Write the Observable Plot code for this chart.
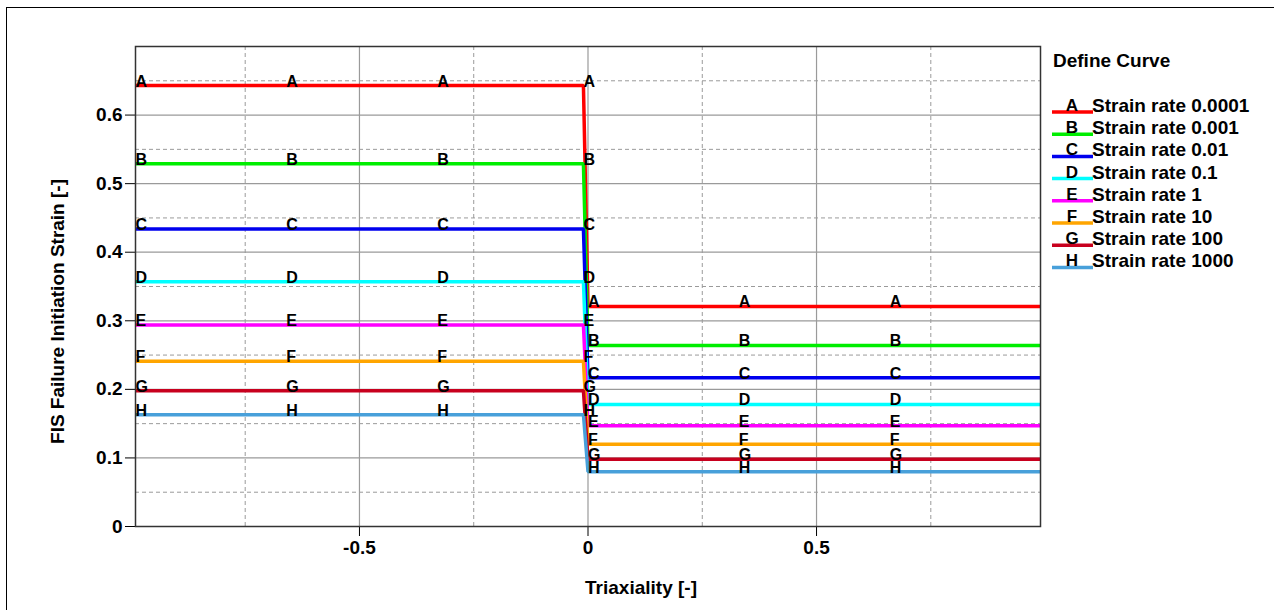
<!DOCTYPE html>
<html>
<head>
<meta charset="utf-8">
<script src="https://cdn.jsdelivr.net/npm/d3@7"></script>
<script src="https://cdn.jsdelivr.net/npm/@observablehq/plot@0.6"></script>
<style>
  body { margin: 0; background: #fff; }
  #wrap { position: relative; width: 1274px; height: 610px; overflow: hidden; font-family: "Liberation Sans", Arial, sans-serif; }
  #border { position: absolute; left: 6px; top: 7px; width: 1400px; height: 800px; border-top: 1.5px solid #000; border-left: 1.5px solid #000; }
  #wrap svg { position: absolute; left: 0; top: 0; }
</style>
</head>
<body>
<div id="wrap"><div id="border"></div></div>
<script>
// ---- data ----
const curveLetters = ["A", "B", "C", "D", "E", "F", "G", "H"];
const curveNames = ["Strain rate 0.0001", "Strain rate 0.001", "Strain rate 0.01", "Strain rate 0.1",
                    "Strain rate 1", "Strain rate 10", "Strain rate 100", "Strain rate 1000"];
const curveColors = ["#ff0000", "#00ee00", "#0000ee", "#00ffff", "#ff00ff", "#ffa500", "#c8001e", "#48a0da"];
const triaxiality = [-0.99, -0.66, -0.33, -0.01, 0, 0.33, 0.66, 0.99];
const leftLevel = [0.643, 0.529, 0.434, 0.357, 0.294, 0.241, 0.198, 0.163];   // triaxiality < 0
const rightLevel = [0.321, 0.264, 0.217, 0.178, 0.147, 0.120, 0.098, 0.080];  // triaxiality >= 0
const xTicks = [-0.5, 0, 0.5];
const xTickLabels = ["-0.5", "0", "0.5"];
const yTicks = [0, 0.1, 0.2, 0.3, 0.4, 0.5, 0.6];
const yTickLabels = ["0", "0.1", "0.2", "0.3", "0.4", "0.5", "0.6"];
const xMinorGrid = [-0.75, -0.25, 0.25, 0.75];
const yMinorGrid = [0.05, 0.15, 0.25, 0.35, 0.45, 0.55, 0.65];
const xTitle = "Triaxiality [-]";
const yTitle = "FIS Failure Initiation Strain [-]";
const legendTitle = "Define Curve";

// table built from the arrays above
const points = [];
curveLetters.forEach((c, i) => {
  triaxiality.forEach((t, j) => {
    points.push({ curve: c, x: t, y: t < 0 ? leftLevel[i] : rightLevel[i], last: j === triaxiality.length - 1 });
  });
});

const font = "Liberation Sans, Arial, sans-serif";

const chart = Plot.plot({
  width: 1274,
  height: 610,
  marginLeft: 135,
  marginRight: 234,
  marginTop: 46,
  marginBottom: 84,
  style: { fontFamily: font, fontSize: "19px", fontWeight: "bold", background: "transparent", color: "#000" },
  x: { domain: [-0.99, 0.99], ticks: xTicks, tickFormat: d => xTickLabels[xTicks.indexOf(d)], tickSize: 10, tickPadding: 4, label: null },
  y: { domain: [0, 0.7], ticks: yTicks, tickFormat: d => yTickLabels[yTicks.indexOf(d)], tickSize: 10, tickPadding: 3, label: null },
  color: { domain: curveLetters, range: curveColors },
  marks: [
    Plot.ruleY(yMinorGrid, { stroke: "#9a9a9a", strokeDasharray: "4,3", strokeWidth: 1 }),
    Plot.ruleX(xMinorGrid, { stroke: "#9a9a9a", strokeDasharray: "4,3", strokeWidth: 1 }),
    Plot.ruleY(yTicks.slice(1), { stroke: "#9a9a9a", strokeWidth: 1.2 }),
    Plot.ruleX(xTicks, { stroke: "#9a9a9a", strokeWidth: 1.2 }),
    Plot.line(points, { x: "x", y: "y", z: "curve", stroke: "curve", strokeWidth: 3.5, strokeLinejoin: "miter", strokeLinecap: "butt" }),
    Plot.text(points.filter(d => !d.last), {
      x: "x", y: "y", text: "curve", textAnchor: "start", lineAnchor: "bottom",
      fontSize: 16, fontWeight: "bold", fill: "#000", dy: 1
    }),
    Plot.frame({ stroke: "#333", strokeWidth: 1.5 }),
    Plot.text([xTitle], { text: d => d, frameAnchor: "bottom", textAnchor: "middle", lineAnchor: "middle", dx: 53, dy: 61, fontSize: 19, fontWeight: "bold", fill: "#000" }),
    Plot.text([yTitle], { text: d => d, frameAnchor: "left", textAnchor: "middle", lineAnchor: "middle", rotate: -90, dx: -78, dy: 25, fontSize: 19, fontWeight: "bold", fill: "#000" })
  ]
});
document.getElementById("wrap").appendChild(chart);

// ---- legend (right side) ----
const leg = d3.select("#wrap").append("svg")
  .attr("width", 1274).attr("height", 610)
  .style("pointer-events", "none")
  .style("font-family", font).style("font-weight", "bold");
leg.append("text").attr("x", 1053).attr("y", 67).attr("font-size", 19).text(legendTitle);
const rowY0 = 112, rowStep = 22.2;
curveLetters.forEach((c, i) => {
  const y = rowY0 + i * rowStep;
  leg.append("line").attr("x1", 1052).attr("x2", 1093).attr("y1", y).attr("y2", y)
    .attr("stroke", curveColors[i]).attr("stroke-width", 3.5);
  leg.append("text").attr("x", 1072).attr("y", y - 1).attr("text-anchor", "middle").attr("font-size", 17).text(c);
  leg.append("text").attr("x", 1092).attr("y", y).attr("font-size", 19).text(curveNames[i]);
});
</script>
</body>
</html>
